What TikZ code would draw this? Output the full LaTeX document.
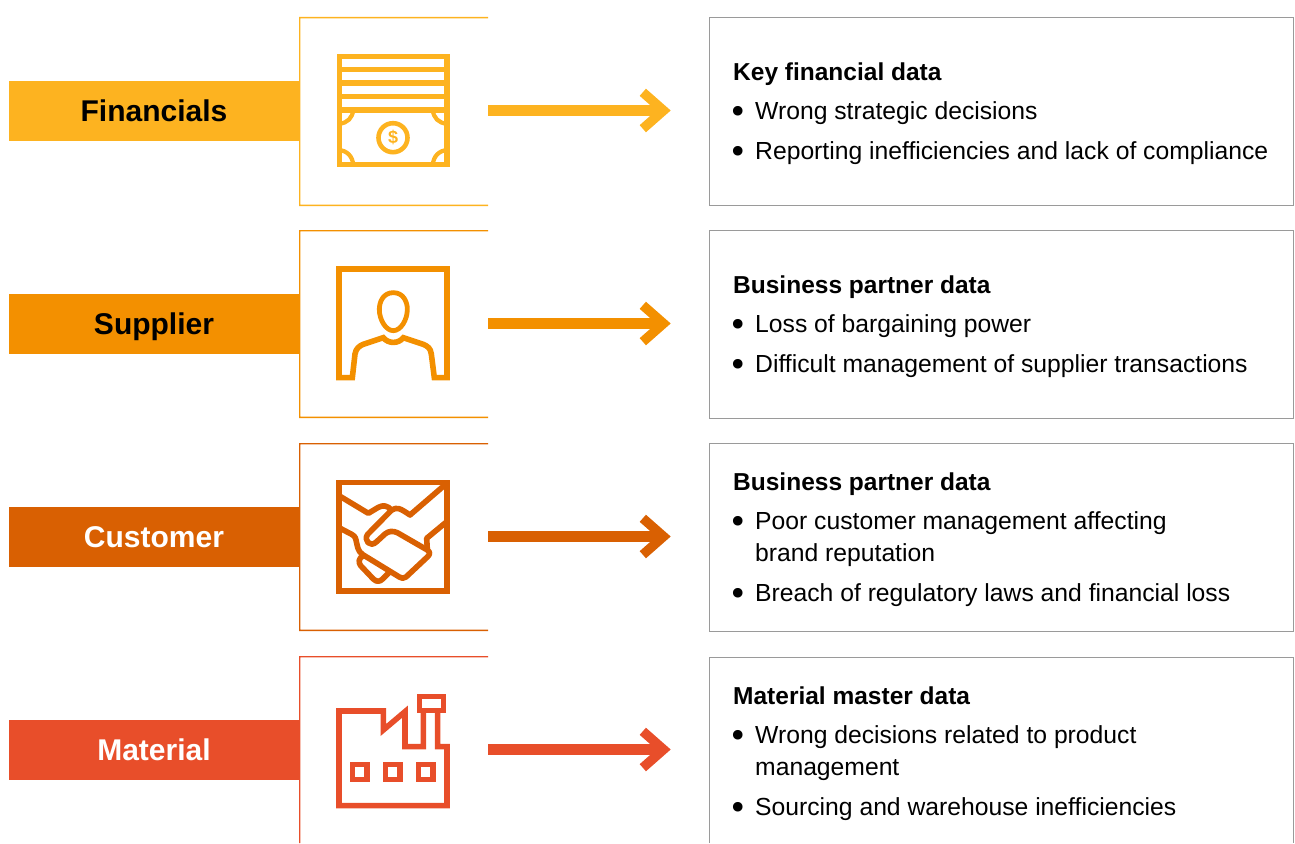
\documentclass[tikz,border=0pt]{standalone}
\usepackage{fontspec}
\setmainfont{Liberation Sans}
\newfontfamily\dotfont{DejaVu Sans}
\usetikzlibrary{arrows.meta}
\definecolor{cA}{HTML}{FDB320}
\definecolor{cB}{HTML}{F39000}
\definecolor{cC}{HTML}{D96002}
\definecolor{cD}{HTML}{E84E2A}
\definecolor{boxgray}{HTML}{9A9A9A}
\tikzset{
  barlabel/.style={rectangle,fill=#1,minimum width=290pt,minimum height=60pt,inner sep=0pt,text height=22pt,text depth=2pt,font=\fontsize{30}{32}\selectfont\bfseries},
  iconline/.style={color=#1,line width=5.6pt,line join=miter},
  flow/.style={color=#1,line width=11pt,-{Straight Barb[length=20.7pt,width=36.4pt,line width=9.5pt,#1]}},
  infobox/.style={rectangle,draw=boxgray,line width=1.1pt,minimum width=584pt,minimum height=188pt,inner sep=0pt},
  head/.style={anchor=base west,inner sep=0pt,yshift=-0.7pt,font=\fontsize{24.5}{26}\selectfont\bfseries},
  item/.style={anchor=base west,inner sep=0pt,font=\fontsize{24.7}{26}\selectfont},
  dot/.style={anchor=base west,inner sep=0pt,xshift=-4.6pt,yshift=-4.4pt,font=\dotfont\fontsize{33}{33}\selectfont},
}
\newcommand{\openframe}[3]{\fill[#1] (488,#2) -- (299,#2) -- (299,#3) -- (488,#3) -- (488,#3-1.3) -- (300.3,#3-1.3) -- (300.3,#2+1.3) -- (488,#2+1.3) -- cycle;}
\begin{document}
\begin{tikzpicture}[x=1pt,y=-1pt]
\useasboundingbox (0,0) rectangle (1295,843);
\clip (0,0) rectangle (1295,843);
% row 1
\node[barlabel=cA,text=black] (bar1) at (154,111) {Financials};
\node[infobox] (box1) at (1001.5,111.5) {};
\coordinate (fr1) at (488,110.5);
\coordinate (to1) at (670.7,110.5);
\openframe{cA}{17}{206}
\draw[flow=cA] (fr1) -- (to1);
\draw[iconline=cA] (339.5,56.5) rectangle (446.8,164.6);
\draw[iconline=cA] (339.5,69.6) -- (446.8,69.6) (339.5,83) -- (446.8,83) (339.5,96.6) -- (446.8,96.6) (339.5,110) -- (446.8,110);
\draw[iconline=cA,line width=4.2pt] (353,110) arc[start angle=0,end angle=90,radius=13.5];
\draw[iconline=cA,line width=4.2pt] (433,110) arc[start angle=180,end angle=90,radius=13.5];
\draw[iconline=cA,line width=4.2pt] (353,164.6) arc[start angle=0,end angle=-90,radius=14.5];
\draw[iconline=cA,line width=4.2pt] (433,164.6) arc[start angle=180,end angle=270,radius=14.5];
\node[circle,draw=cA,line width=4.6pt,minimum size=29pt,inner sep=0pt,text=cA,font=\fontsize{18}{18}\selectfont\bfseries] (coin) at (393,137.7) {\$};
\node[head] (h1) at (733,79.5) {Key financial data};
\node[dot] (d11) at (733,119) {•};
\node[item] (t11) at (755,119) {Wrong strategic decisions};
\node[dot] (d12) at (733,159) {•};
\node[item] (t12) at (755,159) {Reporting inefficiencies and lack of compliance};
% row 2
\node[barlabel=cB,text=black] (bar2) at (154,324) {Supplier};
\node[infobox] (box2) at (1001.5,324.5) {};
\coordinate (fr2) at (488,323.5);
\coordinate (to2) at (670.7,323.5);
\openframe{cB}{230}{418}
\draw[flow=cB] (fr2) -- (to2);
\begin{scope}[shift={(320,250)},x=0.3333pt,y=-0.3333pt]
\draw[iconline=cB] (97,383) -- (57,383) -- (57,57) -- (381,57) -- (381,383) -- (343,383) -- (334,312)
  .. controls (332,295) and (322,288) .. (310,283) -- (250,263)
  .. controls (235,282) and (205,282) .. (190,263) -- (130,283)
  .. controls (118,288) and (108,295) .. (105,312) -- cycle;
\draw[iconline=cB,line width=4.8pt] (220,128) .. controls (250,128) and (262,155) .. (262,178)
  .. controls (262,210) and (242,242) .. (220,242)
  .. controls (198,242) and (178,210) .. (178,178)
  .. controls (178,155) and (190,128) .. (220,128) -- cycle;
\end{scope}
\node[head] (h2) at (733,292.5) {Business partner data};
\node[dot] (d21) at (733,332) {•};
\node[item] (t21) at (755,332) {Loss of bargaining power};
\node[dot] (d22) at (733,372) {•};
\node[item] (t22) at (755,372) {Difficult management of supplier transactions};
% row 3
\node[barlabel=cC,text=white] (bar3) at (154,537) {Customer};
\node[infobox] (box3) at (1001.5,537.5) {};
\coordinate (fr3) at (488,536.5);
\coordinate (to3) at (670.7,536.5);
\openframe{cC}{443}{631}
\draw[flow=cC] (fr3) -- (to3);
\begin{scope}[shift={(320,465)},x=0.3333pt,y=-0.3333pt]
\draw[iconline=cC] (57,52) rectangle (381,378);
\draw[iconline=cC,line join=round] (57,92) -- (145,145) -- (175,127) .. controls (190,119) and (202,122) .. (215,135)
  .. controls (232,125) and (240,130) .. (270,150) -- (378,57);
\draw[iconline=cC,line join=round] (215,135) -- (143,208) .. controls (130,225) and (150,250) .. (170,230) -- (195,207)
  .. controls (205,198) and (220,197) .. (232,203) -- (322,255) .. controls (332,262) and (330,268) .. (322,276)
  -- (258,336) .. controls (250,342) and (245,340) .. (238,336) -- (130,270)
  .. controls (112,260) and (112,240) .. (108,225) .. controls (105,212) and (100,212) .. (95,208) -- (57,188);
\draw[iconline=cC,line join=round] (130,272) .. controls (115,280) and (115,292) .. (122,302) -- (160,342)
  .. controls (170,352) and (180,350) .. (188,342) -- (208,322);
\draw[iconline=cC,line join=round] (378,172) -- (320,220) -- (322,252);
\end{scope}
\node[head] (h3) at (733,489.5) {Business partner data};
\node[dot] (d31) at (733,529) {•};
\node[item] (t31) at (755,529) {Poor customer management affecting};
\node[item] (t31b) at (755,561) {brand reputation};
\node[dot] (d32) at (733,601) {•};
\node[item] (t32) at (755,601) {Breach of regulatory laws and financial loss};
% row 4
\node[barlabel=cD,text=white] (bar4) at (154,750) {Material};
\coordinate (fr4) at (488,749.5);
\coordinate (to4) at (670.7,749.5);
\fill[cD] (488,656) -- (299,656) -- (299,843) -- (300.3,843) -- (300.3,657.3) -- (488,657.3) -- cycle;
\draw[boxgray,line width=1.1pt] (709.5,843) -- (709.5,657.5) -- (1293.5,657.5) -- (1293.5,843);
\draw[flow=cD] (fr4) -- (to4);
\begin{scope}[shift={(320,680)},x=0.3333pt,y=-0.3333pt]
\draw[iconline=cD] (310,97) -- (310,200) -- (255,200) -- (255,95) -- (190,150) -- (190,93) -- (57,93) -- (57,377) -- (381,377) -- (381,200) -- (353,200) -- (353,97);
\draw[iconline=cD] (298,50) rectangle (371,92);
\draw[iconline=cD] (97,254) rectangle (141,298);
\draw[iconline=cD] (196,254) rectangle (240,298);
\draw[iconline=cD] (295,254) rectangle (339,298);
\end{scope}
\node[head] (h4) at (733,703.5) {Material master data};
\node[dot] (d41) at (733,743) {•};
\node[item] (t41) at (755,743) {Wrong decisions related to product};
\node[item] (t41b) at (755,775) {management};
\node[dot] (d42) at (733,815) {•};
\node[item] (t42) at (755,815) {Sourcing and warehouse inefficiencies};
\end{tikzpicture}
\end{document}
